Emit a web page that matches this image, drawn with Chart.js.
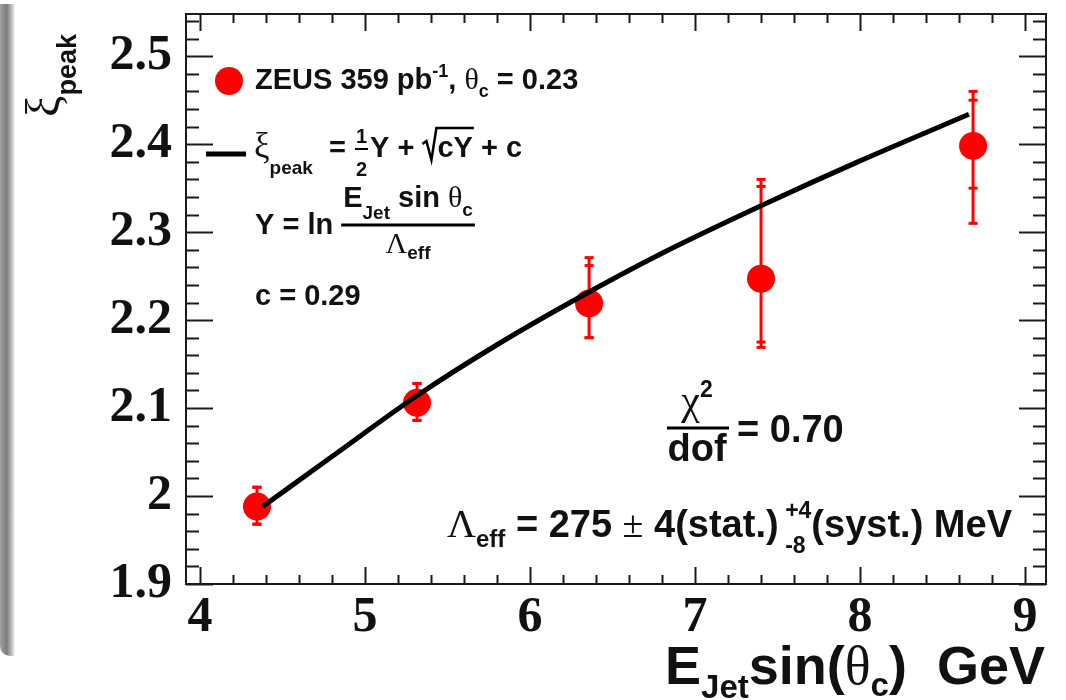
<!DOCTYPE html>
<html>
<head>
<meta charset="utf-8">
<script src="https://cdn.jsdelivr.net/npm/chart.js@4/dist/chart.umd.min.js"></script>
<style>
  html, body { margin: 0; padding: 0; background: #fff; }
  #wrap { position: relative; width: 1066px; height: 700px; overflow: hidden; }
  #wrap canvas { position: absolute; left: 0; top: 0; }
  #shade {
    position: absolute; left: 0; top: 4px; width: 15px; height: 652px;
    background: linear-gradient(to right, #a0a0a0, #7c7c7c 45%, #cfcfcf 85%, #fff);
    border-radius: 0 0 0 10px;
  }
</style>
</head>
<body>
<div id="wrap">
  <canvas id="chart" width="1066" height="700"></canvas>
  <div id="shade"></div>
</div>
<script>
// measured peak positions
const eJet = [4.345, 5.315, 6.358, 7.40, 8.685]
const xiPeak = [1.988, 2.106, 2.219, 2.247, 2.398]
const statUp = [0.022, 0.022, 0.043, 0.105, 0.052]
const statDown = [0.020, 0.020, 0.039, 0.072, 0.048]
const totUp = [0.022, 0.022, 0.052, 0.113, 0.062]
const totDown = [0.020, 0.020, 0.039, 0.078, 0.088]

// MLLA fit curve
const fitE = [4.38, 4.8, 5.33, 5.8, 6.3, 6.8, 7.4, 8.0, 8.66]
const fitXi = [1.988, 2.045, 2.116, 2.172, 2.226, 2.276, 2.330, 2.381, 2.434]

const xTicks = [4, 5, 6, 7, 8, 9]
const yTicks = [1.9, 2.0, 2.1, 2.2, 2.3, 2.4, 2.5]
const xRange = [3.915, 9.127]
const yRange = [1.9, 2.548]

const SANS = '"Liberation Sans", Arial, sans-serif'
const SERIF = '"Liberation Serif", "Times New Roman", serif'
const B = s => `bold ${s}px ${SANS}`
const G = s => `${s}px ${SERIF}`

// draw a row of text pieces: [text, font, dy]
function runs(ctx, x, y, parts, align) {
  let w = 0
  parts.forEach(p => { ctx.font = p[1]; w += ctx.measureText(p[0]).width })
  let cx = align === 'right' ? x - w : align === 'center' ? x - w / 2 : x
  parts.forEach(p => {
    ctx.font = p[1]
    ctx.fillText(p[0], cx, y + (p[2] || 0))
    cx += ctx.measureText(p[0]).width
  })
  return cx
}

function width(ctx, parts) {
  let w = 0
  parts.forEach(p => { ctx.font = p[1]; w += ctx.measureText(p[0]).width })
  return w
}

const errorBars = {
  id: 'errorBars',
  beforeDatasetsDraw(chart) {
    const { ctx, scales: { x, y } } = chart
    ctx.save()
    ctx.strokeStyle = '#ff0000'
    ctx.fillStyle = '#ff0000'
    ctx.lineWidth = 3
    const cap = (px, py) => ctx.fillRect(px - 4.5, py - 1.5, 9, 3)
    eJet.forEach((e, i) => {
      const px = x.getPixelForValue(e)
      const top = y.getPixelForValue(xiPeak[i] + totUp[i])
      const bot = y.getPixelForValue(xiPeak[i] - totDown[i])
      ctx.beginPath()
      ctx.moveTo(px, top)
      ctx.lineTo(px, bot)
      ctx.stroke()
      cap(px, top)
      cap(px, bot)
      cap(px, y.getPixelForValue(xiPeak[i] + statUp[i]))
      cap(px, y.getPixelForValue(xiPeak[i] - statDown[i]))
    })
    ctx.restore()
  }
}

const frame = {
  id: 'frame',
  afterDatasetsDraw(chart) {
    const { ctx, chartArea: a, scales: { x, y } } = chart
    ctx.save()
    ctx.strokeStyle = '#1a1a1a'
    ctx.lineWidth = 2
    ctx.beginPath()
    // x ticks, top and bottom
    for (let v = 4; v <= 9.001; v += 0.2) {
      const px = Math.round(x.getPixelForValue(v)) + 0.5
      const major = Math.abs(v - Math.round(v)) < 1e-6
      const len = major ? 17 : 9
      ctx.moveTo(px, a.bottom); ctx.lineTo(px, a.bottom - len)
      ctx.moveTo(px, a.top); ctx.lineTo(px, a.top + len)
    }
    // y ticks, left and right
    for (let v = 1.9; v <= 2.548; v += 0.02) {
      const py = Math.round(y.getPixelForValue(v)) + 0.5
      const major = Math.abs(v * 10 - Math.round(v * 10)) < 1e-6
      const len = major ? 27 : 13
      ctx.moveTo(a.left, py); ctx.lineTo(a.left + len, py)
      ctx.moveTo(a.right, py); ctx.lineTo(a.right - len, py)
    }
    ctx.stroke()
    ctx.strokeRect(a.left, a.top, a.right - a.left, a.bottom - a.top)
    ctx.restore()
  }
}

const labels = {
  id: 'labels',
  afterDraw(chart) {
    const { ctx } = chart
    ctx.save()
    ctx.fillStyle = '#111'
    ctx.textBaseline = 'alphabetic'

    // legend: data marker
    ctx.fillStyle = '#ff0000'
    ctx.beginPath()
    ctx.arc(229, 81, 14, 0, Math.PI * 2)
    ctx.fill()
    ctx.fillStyle = '#111'
    runs(ctx, 255, 89, [
      ['ZEUS 359 pb', B(29)], ['-1', B(18), -12], [', ', B(29)],
      ['θ', G(30)], ['c', B(18), 8], [' = 0.23', B(29)]
    ])

    // legend: fit line
    ctx.strokeStyle = '#000'
    ctx.lineWidth = 5
    ctx.beginPath()
    ctx.moveTo(206, 154); ctx.lineTo(246, 154)
    ctx.stroke()
    let cx = runs(ctx, 254, 157, [['ξ', G(35)], ['peak', B(19), 17], ['  = ', B(29)]])
    ctx.font = B(20)
    ctx.fillText('1', cx + 2, 143)
    ctx.fillText('2', cx + 2, 176)
    ctx.lineWidth = 2
    ctx.beginPath(); ctx.moveTo(cx + 1, 149); ctx.lineTo(cx + 14, 149); ctx.stroke()
    cx = runs(ctx, cx + 16, 157, [['Y + ', B(29)]])
    // radical
    ctx.font = B(29)
    const wcy = ctx.measureText('cY').width
    ctx.lineWidth = 2.5
    ctx.beginPath()
    ctx.moveTo(cx, 144); ctx.lineTo(cx + 4, 141); ctx.lineTo(cx + 9, 160)
    ctx.lineTo(cx + 14, 128); ctx.lineTo(cx + 16 + wcy, 128)
    ctx.stroke()
    runs(ctx, cx + 15, 157, [['cY + c', B(29)]])

    // Y definition
    cx = runs(ctx, 255, 234, [['Y = ln', B(29)]])
    const num = [['E', B(29)], ['Jet', B(19), 12], [' sin ', B(29)], ['θ', G(30)], ['c', B(19), 9]]
    const nw = width(ctx, num)
    runs(ctx, cx + 10, 207, num)
    ctx.lineWidth = 3
    ctx.beginPath(); ctx.moveTo(cx + 8, 225); ctx.lineTo(cx + 12 + nw, 225); ctx.stroke()
    runs(ctx, cx + 10 + nw / 2, 253, [['Λ', G(30)], ['eff', B(19), 6]], 'center')

    runs(ctx, 255, 305, [['c = 0.29', B(29)]])

    // chi2 / dof
    runs(ctx, 697, 414, [['χ', G(42)], ['2', B(23), -17]], 'center')
    ctx.lineWidth = 3
    ctx.beginPath(); ctx.moveTo(667, 428); ctx.lineTo(729, 428); ctx.stroke()
    runs(ctx, 697, 461, [['dof', B(38)]], 'center')
    runs(ctx, 737, 442, [['= 0.70', B(38)]])

    // Lambda_eff result
    cx = runs(ctx, 447, 537, [
      ['Λ', G(40)], ['eff', B(24), 10], [' = 275 ', B(38)], ['±', G(38)], [' 4(stat.) ', B(38)]
    ])
    ctx.font = B(23)
    ctx.fillText('+4', cx - 4, 518)
    ctx.fillText('-8', cx - 4, 553)
    runs(ctx, cx - 4 + ctx.measureText('+4').width, 537, [['(syst.) MeV', B(38)]])

    // axis titles
    runs(ctx, 1045, 684, [
      ['E', B(54)], ['Jet', B(33), 14], ['sin(', B(54)], ['θ', G(54)], ['c', B(33), 12], [')', B(54)], ['  GeV', B(54)]
    ], 'right')

    ctx.translate(59, 117)
    ctx.rotate(-Math.PI / 2)
    runs(ctx, 0, 0, [['ξ', G(48)], ['peak', B(27), 17]])
    ctx.restore()
  }
}

new Chart(document.getElementById('chart'), {
  type: 'scatter',
  data: {
    datasets: [
      {
        type: 'line',
        data: fitE.map((e, i) => ({ x: e, y: fitXi[i] })),
        borderColor: '#000',
        borderWidth: 5,
        pointRadius: 0,
        cubicInterpolationMode: 'monotone',
        order: 0
      },
      {
        data: eJet.map((e, i) => ({ x: e, y: xiPeak[i] })),
        backgroundColor: '#ff0000',
        borderWidth: 0,
        pointRadius: 14,
        order: 1
      }
    ]
  },
  options: {
    responsive: false,
    animation: false,
    layout: { padding: { left: 0, top: 13, right: 20, bottom: 0 } },
    plugins: { legend: { display: false }, tooltip: { enabled: false } },
    scales: {
      x: {
        type: 'linear',
        min: xRange[0],
        max: xRange[1],
        grid: { display: false, drawTicks: false },
        border: { display: false },
        afterBuildTicks: s => { s.ticks = xTicks.map(v => ({ value: v })) },
        afterFit: s => { s.height = 116; s.paddingLeft = 0; s.paddingRight = 0 },
        ticks: {
          color: '#111',
          padding: 4,
          maxRotation: 0,
          font: { family: SERIF, size: 50, weight: 'bold' },
          callback: v => String(v)
        }
      },
      y: {
        type: 'linear',
        min: yRange[0],
        max: yRange[1],
        grid: { display: false, drawTicks: false },
        border: { display: false },
        afterBuildTicks: s => { s.ticks = yTicks.map(v => ({ value: v })) },
        afterFit: s => { s.width = 186; s.paddingTop = 0; s.paddingBottom = 0 },
        ticks: {
          color: '#111',
          padding: 14,
          font: { family: SERIF, size: 50, weight: 'bold' },
          callback: v => String(Math.round(v * 10) / 10)
        }
      }
    }
  },
  plugins: [errorBars, frame, labels]
})
</script>
</body>
</html>
